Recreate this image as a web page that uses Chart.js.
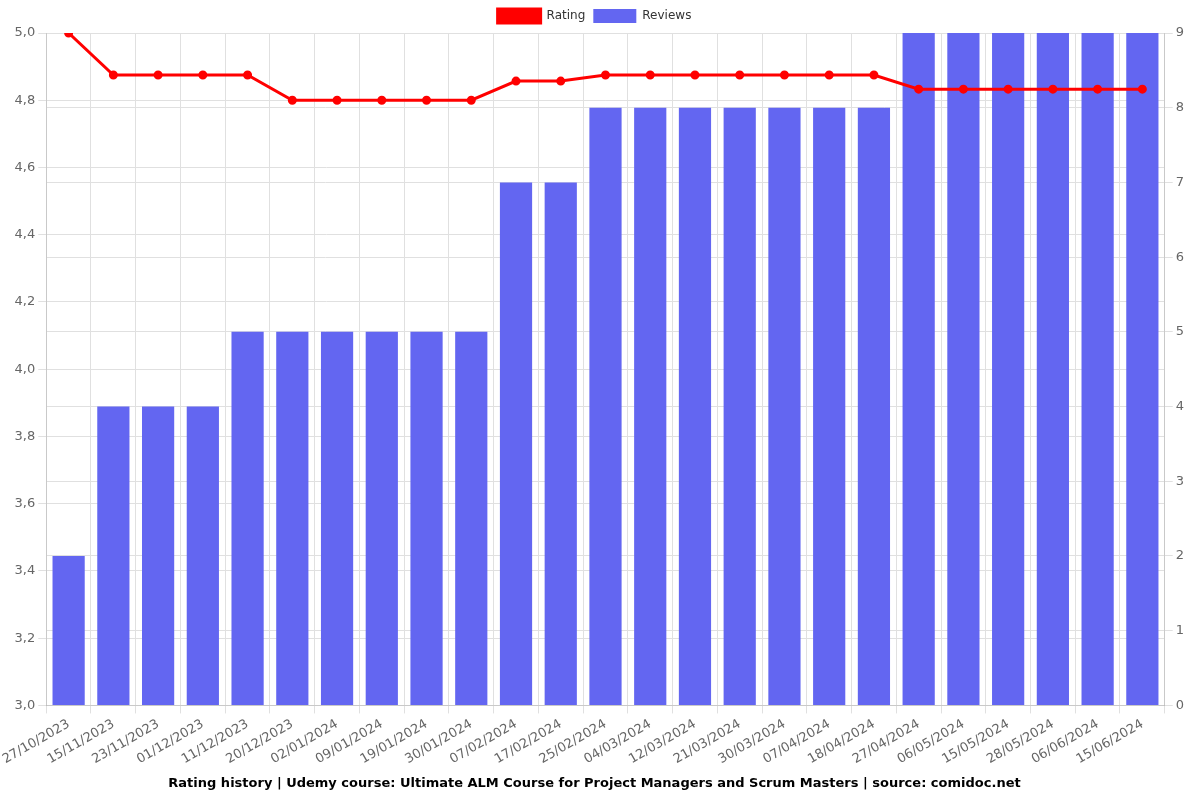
<!DOCTYPE html>
<html>
<head>
<meta charset="utf-8">
<script src="https://cdn.jsdelivr.net/npm/chart.js@4/dist/chart.umd.min.js"></script>
<style>
html,body{margin:0;padding:0;background:#fff;}
#wrap{width:1200px;height:800px;}
</style>
</head>
<body>
<div id="wrap"><canvas id="c" width="1200" height="800"></canvas></div>
<script>
const dates = ["27/10/2023","15/11/2023","23/11/2023","01/12/2023","11/12/2023","20/12/2023","02/01/2024","09/01/2024","19/01/2024","30/01/2024","07/02/2024","17/02/2024","25/02/2024","04/03/2024","12/03/2024","21/03/2024","30/03/2024","07/04/2024","18/04/2024","27/04/2024","06/05/2024","15/05/2024","28/05/2024","06/06/2024","15/06/2024"];
const rating = [5.0,4.875,4.875,4.875,4.875,4.8,4.8,4.8,4.8,4.8,4.857,4.857,4.875,4.875,4.875,4.875,4.875,4.875,4.875,4.833,4.833,4.833,4.833,4.833,4.833];
const reviews = [2,4,4,4,5,5,5,5,5,5,7,7,8,8,8,8,8,8,8,9,9,9,9,9,9];
const titleText = "Rating history | Udemy course: Ultimate ALM Course for Project Managers and Scrum Masters | source: comidoc.net";

Chart.defaults.font.family = "'DejaVu Sans', sans-serif";
Chart.defaults.font.size = 13;
Chart.defaults.color = "#666";

new Chart(document.getElementById('c'), {
  data: {
    labels: dates,
    datasets: [
      {
        type: 'line', label: 'Rating', data: rating, yAxisID: 'y',
        borderColor: '#ff0000', backgroundColor: '#ff0000',
        borderWidth: 3, pointRadius: 3, pointHoverRadius: 3, tension: 0, order: 0
      },
      {
        type: 'bar', label: 'Reviews', data: reviews, yAxisID: 'y1',
        backgroundColor: '#6366f1', borderColor: '#6366f1', order: 1
      }
    ]
  },
  options: {
    responsive: false,
    animation: false,
    layout: { padding: { left: 2, right: 13, top: 1, bottom: 0 } },
    plugins: {
      legend: {
        position: 'top',
        labels: { boxWidth: 43, boxHeight: 14, padding: 8, color: '#333', font: { size: 12 } }
      },
      title: {
        display: true, text: titleText, position: 'bottom',
        color: '#000', font: { size: 13, weight: 'bold' }, padding: { top: 5, bottom: 9 }
      },
      tooltip: { enabled: false }
    },
    scales: {
      x: {
        grid: { color: '#e0e0e0' },
        ticks: { maxRotation: 30, minRotation: 30, color: '#666', autoSkip: false }
      },
      y: {
        position: 'left', min: 3, max: 5,
        grid: { color: '#e0e0e0' },
        ticks: { stepSize: 0.2, color: '#666', callback: v => v.toFixed(1).replace('.', ',') }
      },
      y1: {
        position: 'right', min: 0, max: 9,
        grid: { color: '#e0e0e0' },
        ticks: { stepSize: 1, color: '#666' }
      }
    }
  }
});
</script>
</body>
</html>
